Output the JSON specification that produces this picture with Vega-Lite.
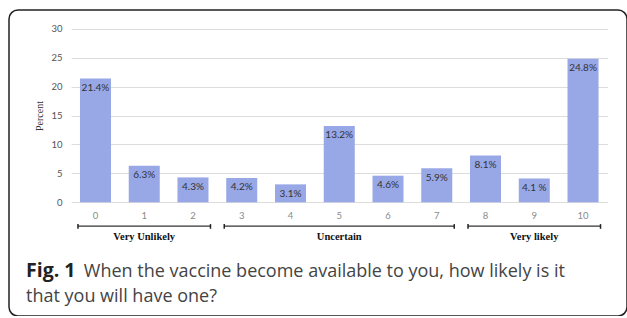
{
  "$schema": "https://vega.github.io/schema/vega-lite/v6.json",
  "autosize": {"type": "none"},
  "padding": {"left": 9, "top": 10, "right": 0, "bottom": 0},
  "width": 618,
  "height": 306,
  "background": "white",
  "view": {"stroke": "#222222", "strokeWidth": 1.5, "cornerRadius": 9, "fill": "white"},
  "title": {
    "text": "Fig. 1",
    "subtitle": "that you will have one?",
    "orient": "bottom",
    "anchor": "start",
    "frame": "group",
    "offset": -39.3,
    "dx": 17,
    "baseline": "alphabetic",
    "font": "Open Sans",
    "fontSize": 19.5,
    "fontWeight": "bold",
    "color": "#222222",
    "subtitleFont": "Open Sans",
    "subtitleFontSize": 18,
    "subtitleFontWeight": "normal",
    "subtitleColor": "#444444",
    "subtitlePadding": 6
  },
  "datasets": {
    "bars": [
      {"score": 0, "pct": 21.4, "label": "21.4%"},
      {"score": 1, "pct": 6.3, "label": "6.3%"},
      {"score": 2, "pct": 4.3, "label": "4.3%"},
      {"score": 3, "pct": 4.2, "label": "4.2%"},
      {"score": 4, "pct": 3.1, "label": "3.1%"},
      {"score": 5, "pct": 13.2, "label": "13.2%"},
      {"score": 6, "pct": 4.6, "label": "4.6%"},
      {"score": 7, "pct": 5.9, "label": "5.9%"},
      {"score": 8, "pct": 8.1, "label": "8.1%"},
      {"score": 9, "pct": 4.1, "label": "4.1 %"},
      {"score": 10, "pct": 24.8, "label": "24.8%"}
    ],
    "groups": [
      {"group": "Very Unlikely", "first": 0, "last": 2, "mid": 1},
      {"group": "Uncertain", "first": 3, "last": 7, "mid": 5},
      {"group": "Very likely", "first": 8, "last": 10, "mid": 9}
    ]
  },
  "layer": [
    {
      "data": {"name": "bars"},
      "mark": {"type": "bar", "color": "#98a7e6"},
      "encoding": {
        "x": {
          "field": "score", "type": "ordinal",
          "scale": {"domain": [0,1,2,3,4,5,6,7,8,9,10], "range": [62.1, 598.4], "paddingInner": 0.364, "paddingOuter": 0.182},
          "axis": {
            "title": "When the vaccine become available to you, how likely is it", "titleX": 74.3, "titleY": 74.4, "titleAlign": "left", "titleAnchor": null, "titleBaseline": "alphabetic",
            "titleFont": "Open Sans", "titleFontSize": 18, "titleFontWeight": "normal", "titleColor": "#444444",
            "offset": -113.7, "domain": false, "ticks": false, "tickSize": 0, "labelPadding": 8, "labelAngle": 0,
            "labelFont": "Lato", "labelFontSize": 9.5, "labelColor": "#8a8a8a", "grid": false
          }
        },
        "y": {
          "field": "pct", "type": "quantitative",
          "scale": {"domain": [0, 30], "range": [192.3, 18.7], "nice": false, "zero": false},
          "axis": {
            "title": "Percent", "titleFont": "Liberation Serif", "titleFontSize": 10, "titleFontWeight": "normal", "titleColor": "#333333", "titlePadding": 7,
            "values": [0, 5, 10, 15, 20, 25, 30], "offset": -62.1, "domain": false, "ticks": false, "tickSize": 0, "labelPadding": 9,
            "labelFont": "Lato", "labelFontSize": 9.5, "labelColor": "#555555",
            "grid": true, "gridColor": "#dcdcdc", "gridWidth": 1
          }
        }
      }
    },
    {
      "data": {"name": "bars"},
      "mark": {"type": "text", "baseline": "middle", "dy": 9.5, "font": "Lato", "fontSize": 10, "color": "#333333"},
      "encoding": {
        "x": {"field": "score", "type": "ordinal"},
        "y": {"field": "pct", "type": "quantitative"},
        "text": {"field": "label"}
      }
    },
    {
      "data": {"name": "groups"},
      "mark": {"type": "rule", "color": "#333333", "strokeWidth": 1.3, "xOffset": -17.5, "x2Offset": 17.5},
      "encoding": {
        "x": {"field": "first", "type": "ordinal"},
        "x2": {"field": "last"},
        "y": {"datum": -4.1, "type": "quantitative"}
      }
    },
    {
      "data": {"name": "groups"},
      "mark": {"type": "rule", "color": "#222222", "strokeWidth": 1.5, "xOffset": -17.5},
      "encoding": {
        "x": {"field": "first", "type": "ordinal"},
        "y": {"datum": -3.77, "type": "quantitative"},
        "y2": {"datum": -4.58}
      }
    },
    {
      "data": {"name": "groups"},
      "mark": {"type": "rule", "color": "#222222", "strokeWidth": 1.5, "xOffset": 17.5},
      "encoding": {
        "x": {"field": "last", "type": "ordinal"},
        "y": {"datum": -3.77, "type": "quantitative"},
        "y2": {"datum": -4.58}
      }
    },
    {
      "data": {"name": "groups"},
      "mark": {"type": "text", "baseline": "middle", "font": "Liberation Serif", "fontSize": 10.5, "fontWeight": "bold", "color": "#111111"},
      "encoding": {
        "x": {"field": "mid", "type": "ordinal"},
        "y": {"datum": -6.0, "type": "quantitative"},
        "text": {"field": "group"}
      }
    }
  ]
}
